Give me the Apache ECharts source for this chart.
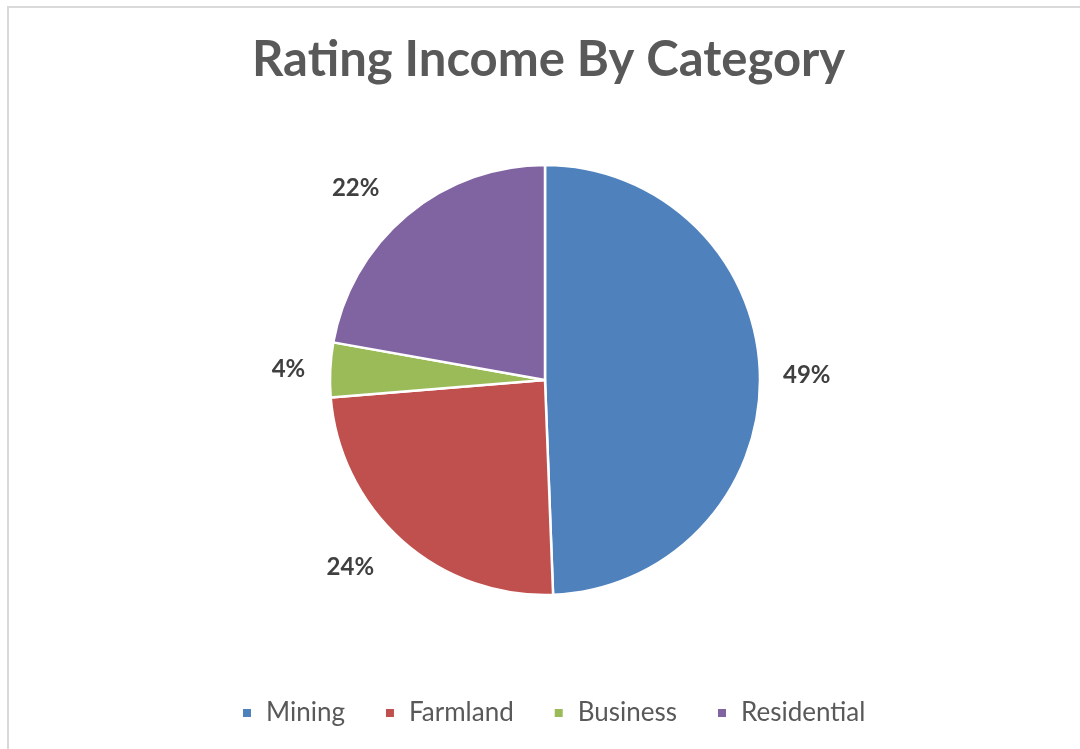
<!DOCTYPE html>
<html>
<head>
<meta charset="utf-8">
<script src="https://cdn.jsdelivr.net/npm/echarts@6/dist/echarts.min.js"></script>
<style>
  html, body { margin: 0; padding: 0; background: #ffffff; }
  #frame {
    position: absolute; left: 7px; top: 6px; width: 1073px; height: 743px;
    border-left: 2px solid #d9d9d9; border-top: 2px solid #d9d9d9;
    box-sizing: border-box;
  }
  #chart { position: absolute; left: 0; top: 0; width: 1080px; height: 749px; }
</style>
</head>
<body>
<div id="frame"></div>
<div id="chart"></div>
<script>
// Rating income shares by category
const categories = ['Mining', 'Farmland', 'Business', 'Residential'];
const shares = [49.4, 24.3, 4.1, 22.2];

// Slice colours and how far each percentage label sits outside its slice
const colors = ['#4F81BD', '#C0504D', '#9BBB59', '#8064A2'];
const labelOffsets = [18, 35, 20, 35];

const chart = echarts.init(document.getElementById('chart'), null, { renderer: 'canvas' });

const option = {
  backgroundColor: 'transparent',
  animation: false,
  title: {
    text: 'Rating Income By Category',
    left: 247,
    top: 31,
    textStyle: {
      fontFamily: 'Lato',
      fontWeight: 'bold',
      fontSize: 49,
      color: '#595959'
    }
  },
  legend: {
    bottom: 18,
    left: 236,
    itemWidth: 10,
    itemHeight: 10,
    itemGap: 39,
    icon: 'rect',
    textStyle: {
      fontFamily: 'Lato',
      fontSize: 26,
      color: '#595959',
      padding: [0, 0, 0, 9]
    },
    data: categories
  },
  series: [{
    type: 'pie',
    center: [545, 380],
    radius: 215,
    startAngle: 90,
    clockwise: true,
    itemStyle: { borderColor: '#ffffff', borderWidth: 2.5 },
    label: {
      show: true,
      position: 'outside',
      fontFamily: 'Lato',
      fontWeight: 'bold',
      fontSize: 24,
      color: '#404040',
      formatter: p => Math.round(p.percent) + '%'
    },
    labelLine: { show: false, length: 22, length2: 0 },
    emphasis: { disabled: true },
    data: categories.map((name, i) => ({
      name: name,
      value: shares[i],
      itemStyle: { color: colors[i] },
      labelLine: { show: false, length: labelOffsets[i], length2: 0 }
    }))
  }]
};

chart.setOption(option);
</script>
</body>
</html>
